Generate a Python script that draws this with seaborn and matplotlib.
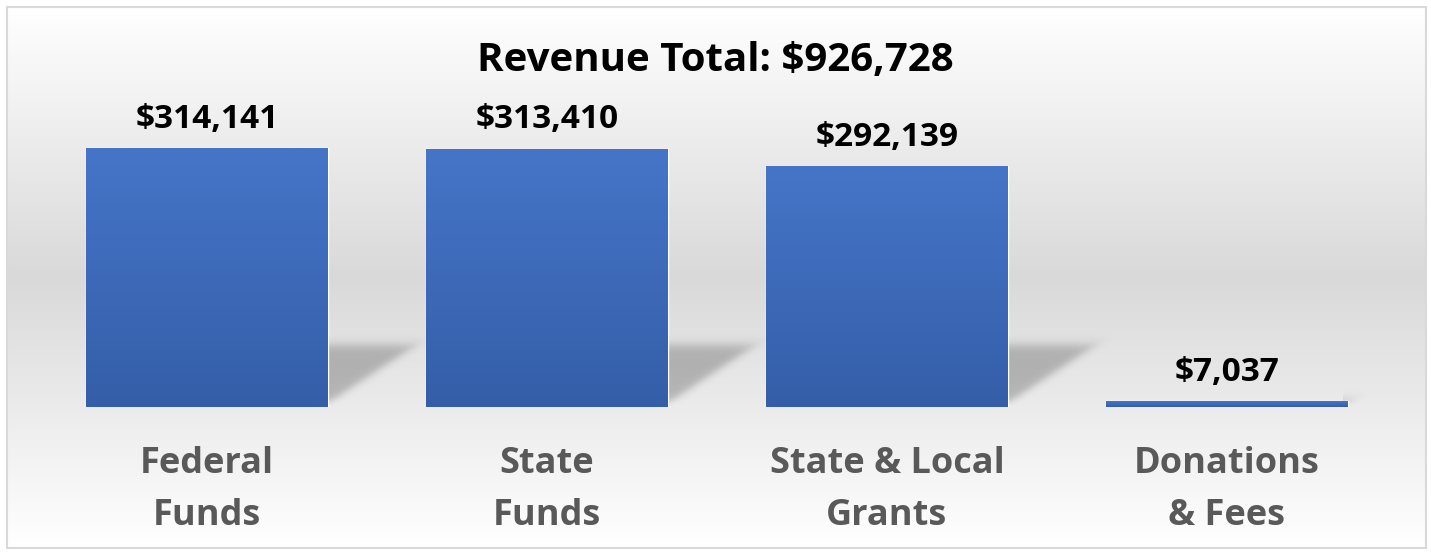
import numpy as np
import matplotlib
matplotlib.use("Agg")
import matplotlib.pyplot as plt
import seaborn as sns
from matplotlib.colors import LinearSegmentedColormap
from matplotlib.patches import Rectangle

# ---- data ----
categories = ["Federal\nFunds", "State\nFunds", "State & Local\nGrants", "Donations\n& Fees"]
values = [314141, 313410, 292139, 7037]
total_value = 926728

W, H = 1431, 552
sns.set_theme(style="white")
plt.rcParams["font.family"] = ["Open Sans", "DejaVu Sans"]

fig = plt.figure(figsize=(W / 100, H / 100), dpi=100)
fig.patch.set_facecolor("white")

# ---- background panel with vertical light gradient ----
bg = fig.add_axes([0, 0, 1, 1], zorder=0)
bg.set_axis_off()
bg.set_xlim(0, 1)
bg.set_ylim(0, 1)
top_px, mid_px, bot_px = 7, 277, 548
ys = np.arange(top_px, bot_px + 1)
t = np.where(ys < mid_px, (ys - top_px) / (mid_px - top_px), (bot_px - ys) / (bot_px - mid_px))
lvl = 1 - (1 - 217 / 255) * t
img = np.repeat(lvl[:, None, None], 3, axis=2)
bg.imshow(img, extent=[7 / W, 1426 / W, 1 - bot_px / H, 1 - top_px / H],
          origin="upper", aspect="auto", zorder=0)
bg.add_patch(Rectangle((7 / W, 1 - bot_px / H), (1426 - 7) / W, (bot_px - top_px) / H,
                       transform=bg.transAxes, fill=False, ec="#d9d9d9", lw=1.5, zorder=2))

# ---- main axes ----
ymax = 350000
ax_left, ax_w = 37 / W, 1360 / W
ax_bottom = (H - 407) / H
ax_h = 288.4 / H
ax = fig.add_axes([ax_left, ax_bottom, ax_w, ax_h], zorder=1)
ax.patch.set_alpha(0)

sns.barplot(x=categories, y=values, color="#4472c4", saturation=1, width=0.71, ax=ax, zorder=3)

px_x = 1360 / 4.0
px_y = 288.4 / ymax

bar_cmap = LinearSegmentedColormap.from_list("bar", ["#345ea8", "#4675c8"])
grad = np.linspace(0, 1, 256).reshape(-1, 1)

for p in list(ax.patches):
    x0, w, h = p.get_x(), p.get_width(), p.get_height()
    im = ax.imshow(grad, extent=[x0, x0 + w, 0, h], origin="lower", cmap=bar_cmap,
                   aspect="auto", zorder=3.5)
    im.set_clip_path(p)
    # perspective shadow to the right of the bar
    hpx = h * px_y
    u = np.linspace(-5, 120, 250)
    v = np.linspace(0, 80, 160)
    U, V = np.meshgrid(u, v)
    vtop = min(62, hpx)
    edge = 1.5 * (V - 4)
    sig = lambda z: 1 / (1 + np.exp(-z))
    alpha = 0.23 * sig((edge - U) / 4) * sig((vtop - V) / 3) * sig((V - 3) / 2)
    rgba = np.zeros(U.shape + (4,))
    rgba[..., 3] = alpha
    ax.imshow(rgba, extent=[x0 + w - 5 / px_x, x0 + w + 120 / px_x, 0, 80 / px_y],
              origin="lower", aspect="auto", zorder=2, interpolation="bilinear")

ax.set_xlim(-0.5, len(values) - 0.5)
ax.set_ylim(0, ymax)
for s in ax.spines.values():
    s.set_visible(False)
ax.set_yticks([])
ax.set_xlabel("")
ax.set_ylabel("")

ax.tick_params(axis="x", length=0, pad=28)
for lab in ax.get_xticklabels():
    lab.set_fontsize(26)
    lab.set_fontweight("bold")
    lab.set_color("#595959")
    lab.set_linespacing(1.58)

labels = [f"${v:,.0f}" for v in values]
ax.bar_label(ax.containers[0], labels=labels, padding=9, fontsize=24,
             fontweight="bold", color="black")

fig.text(0.5, 1 - 60 / H, f"Revenue Total: ${total_value:,.0f}", ha="center", va="center",
         fontsize=29, fontweight="bold", color="black")

fig.savefig("out.png", dpi=100, facecolor="white")
